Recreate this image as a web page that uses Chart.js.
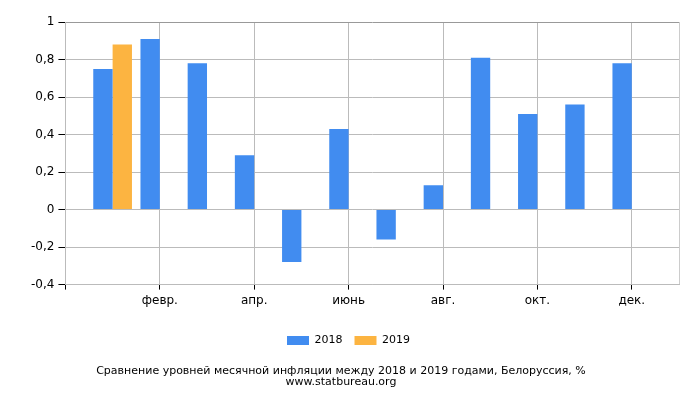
<!DOCTYPE html>
<html>
<head>
<meta charset="utf-8">
<script src="https://cdn.jsdelivr.net/npm/chart.js@4/dist/chart.umd.min.js"></script>
<style>
html,body{margin:0;padding:0;background:#fff;}
#wrap{width:700px;height:400px;}
</style>
</head>
<body>
<div id="wrap"><canvas id="c" width="700" height="400"></canvas></div>
<script>
// Categories (empty slots at both ends give the side margins)
const months = ['', 'янв.', 'февр.', 'март', 'апр.', 'май', 'июнь', 'июль', 'авг.', 'сент.', 'окт.', 'нояб.', 'дек.', ''];
const shownMonths = ['февр.', 'апр.', 'июнь', 'авг.', 'окт.', 'дек.'];
const values2018 = [null, 0.75, 0.91, 0.78, 0.29, -0.28, 0.43, -0.16, 0.13, 0.81, 0.51, 0.56, 0.78, null];
const values2019 = [null, 0.88, null, null, null, null, null, null, null, null, null, null, null, null];
const seriesNames = ['2018', '2019'];
const yTicks = [-0.4, -0.2, 0, 0.2, 0.4, 0.6, 0.8, 1];
const titleLines = ['Сравнение уровней месячной инфляции между 2018 и 2019 годами, Белоруссия, %', 'www.statbureau.org'];

Chart.defaults.font.family = 'DejaVu Sans';
Chart.defaults.font.size = 11;
Chart.defaults.color = '#000';

const lastIdx = months.length - 1;

const titleShift = {
  id: 'titleShift',
  afterLayout(chart) {
    if (chart.titleBlock) { chart.titleBlock.left -= 15; }
  }
};

new Chart(document.getElementById('c'), {
  type: 'bar',
  data: {
    labels: months,
    datasets: [
      { label: seriesNames[0], data: values2018, backgroundColor: '#418CF0', categoryPercentage: 0.82, barPercentage: 1 },
      { label: seriesNames[1], data: values2019, backgroundColor: '#FCB441', categoryPercentage: 0.82, barPercentage: 1 }
    ]
  },
  plugins: [titleShift],
  options: {
    responsive: false,
    animation: false,
    layout: { padding: { left: 18, right: 21, top: 22, bottom: 12 } },
    scales: {
      x: {
        offset: false,
        afterFit: (scale) => { scale.height += 11; },
        grid: {
          offset: false,
          drawTicks: true,
          tickLength: 5,
          color: (ctx) => {
            const i = ctx.index;
            if (i === lastIdx) return '#cccccc';
            if (i === 0) return '#bbbbbb';
            return (shownMonths.includes(months[i])) ? '#bbbbbb' : 'rgba(0,0,0,0)';
          },
          tickColor: (ctx) => {
            const i = ctx.index;
            if (i === 0 || shownMonths.includes(months[i])) return '#000';
            return 'rgba(0,0,0,0)';
          }
        },
        border: { color: '#bbbbbb' },
        ticks: {
          autoSkip: false,
          maxRotation: 0,
          padding: 4,
          font: { size: 12 },
          callback: function (v, i) { return shownMonths.includes(months[i]) ? months[i] : ''; }
        }
      },
      y: {
        min: yTicks[0],
        max: yTicks[yTicks.length - 1],
        afterBuildTicks: (scale) => { scale.ticks = yTicks.map(v => ({ value: v })); },
        afterFit: (scale) => { scale.width += 9; },
        grid: {
          color: (ctx) => (ctx.tick && Math.abs(ctx.tick.value - 1) < 1e-9) ? '#999999' : '#bbbbbb',
          tickColor: '#000',
          tickLength: 7
        },
        border: { color: '#bbbbbb' },
        ticks: {
          padding: 4,
          font: { size: 12 },
          callback: (v) => String(Number(Number(v).toFixed(1))).replace('.', ',')
        }
      }
    },
    plugins: {
      legend: {
        position: 'bottom',
        labels: { boxWidth: 22, boxHeight: 9, padding: 12, font: { size: 11 }, color: '#000' }
      },
      title: {
        display: true,
        position: 'bottom',
        text: titleLines,
        font: { size: 11, weight: 'normal', lineHeight: 1.0 },
        color: '#000',
        padding: { top: 10, bottom: 0 }
      },
      tooltip: { enabled: false }
    }
  }
});
</script>
</body>
</html>
